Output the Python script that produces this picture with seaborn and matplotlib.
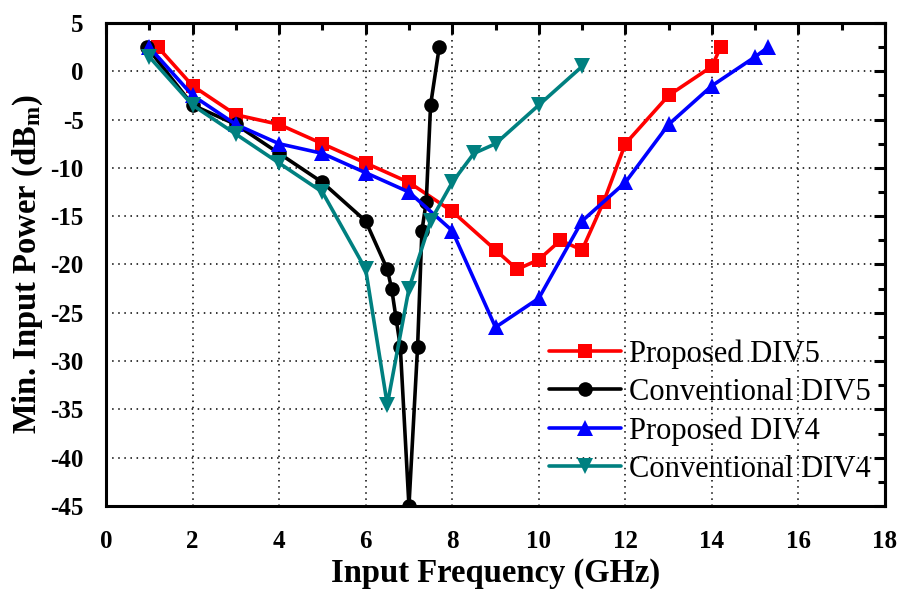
import matplotlib
matplotlib.use("Agg")
import matplotlib.pyplot as plt
import seaborn as sns
import pandas as pd
from matplotlib.ticker import MultipleLocator

# ---- data ----
prop5_x = [1.2, 2, 3, 4, 5, 6, 7, 8, 9, 9.5, 10, 10.5, 11, 11.5, 12, 13, 14, 14.2]
prop5_y = [2.5, -1.5, -4.5, -5.5, -7.5, -9.5, -11.5, -14.5, -18.5, -20.5, -19.5, -17.5, -18.5, -13.5, -7.5, -2.5, 0.5, 2.5]

conv5_x = [0.95, 2, 3, 4, 5, 6, 6.5, 6.6, 6.7, 6.8, 7, 7.2, 7.3, 7.4, 7.5, 7.7]
conv5_y = [2.5, -3.5, -5.5, -8.5, -11.5, -15.5, -20.5, -22.5, -25.5, -28.5, -45, -28.5, -16.5, -13.5, -3.5, 2.5]

prop4_x = [1, 2, 3, 4, 5, 6, 7, 8, 9, 10, 11, 12, 13, 14, 15, 15.3]
prop4_y = [2.5, -2.5, -5.5, -7.5, -8.5, -10.5, -12.5, -16.5, -26.5, -23.5, -15.5, -11.5, -5.5, -1.5, 1.5, 2.5]

conv4_x = [1, 2, 3, 4, 5, 6, 6.5, 7, 7.5, 8, 8.5, 9, 10, 11]
conv4_y = [1.5, -3.5, -6.5, -9.5, -12.5, -20.5, -34.5, -22.5, -15.5, -11.5, -8.5, -7.5, -3.5, 0.5]

series_names = ["Proposed DIV5", "Conventional DIV5", "Proposed DIV4", "Conventional DIV4"]
x_label = "Input Frequency (GHz)"
y_label = "Min. Input Power (dB$\\mathregular{_m}$)"

# ---- style ----
sns.set_style("white")
plt.rcParams["font.family"] = ["Liberation Serif", "DejaVu Serif"]
plt.rcParams["mathtext.fontset"] = "custom"
plt.rcParams["mathtext.rm"] = "Liberation Serif:bold"
plt.rcParams["mathtext.default"] = "regular"
plt.rcParams["axes.unicode_minus"] = False
plt.rcParams["text.color"] = "black"
plt.rcParams["axes.labelcolor"] = "black"
plt.rcParams["xtick.color"] = "black"
plt.rcParams["ytick.color"] = "black"

fig = plt.figure(figsize=(9.01, 5.89), dpi=100)
ax = fig.add_axes([106 / 901, 1 - 506 / 589, (885 - 106) / 901, (506 - 23) / 589])

styles = [
    ("#FF0000", "s", 10.5),
    ("#000000", "o", 10.5),
    ("#0000FF", "^", 11.5),
    ("#008080", "v", 11.5),
]
data = [(prop5_x, prop5_y), (conv5_x, conv5_y), (prop4_x, prop4_y), (conv4_x, conv4_y)]

for (xs, ys), name, (col, mk, ms) in zip(data, series_names, styles):
    df = pd.DataFrame({"x": xs, "y": ys})
    sns.lineplot(data=df, x="x", y="y", ax=ax, sort=False, estimator=None,
                 color=col, marker=mk, markersize=ms, markeredgewidth=0,
                 linewidth=2.6, label=name)

ax.set_xlim(0, 18)
ax.set_ylim(-45, 5)
ax.xaxis.set_major_locator(MultipleLocator(2))
ax.xaxis.set_minor_locator(MultipleLocator(1))
ax.yaxis.set_major_locator(MultipleLocator(5))
ax.yaxis.set_minor_locator(MultipleLocator(2.5))

ax.grid(True, which="major", color="black", linestyle=(0, (1.0, 3)), linewidth=1.1)

for s in ax.spines.values():
    s.set_linewidth(2.2)
    s.set_color("black")

ax.tick_params(axis="x", which="major", direction="out", length=9, width=2.2,
               labelsize=18, pad=8, colors="black")
ax.tick_params(axis="y", which="major", direction="out", length=10, width=2.2,
               labelsize=18, pad=6, colors="black")
ax.tick_params(axis="x", which="minor", direction="out", length=5, width=2.2)
ax.tick_params(axis="y", which="minor", direction="out", length=6, width=2.2)
for lab in ax.get_xticklabels() + ax.get_yticklabels():
    lab.set_fontweight("bold")

# inward ticks on top and right
top = ax.secondary_xaxis("top")
top.xaxis.set_major_locator(MultipleLocator(2))
top.xaxis.set_minor_locator(MultipleLocator(1))
top.tick_params(which="major", direction="in", length=8, width=2.2, labeltop=False)
top.tick_params(which="minor", direction="in", length=5, width=2.2)
top.spines["top"].set_linewidth(2.2)
right = ax.secondary_yaxis("right")
right.yaxis.set_major_locator(MultipleLocator(5))
right.yaxis.set_minor_locator(MultipleLocator(2.5))
right.tick_params(which="major", direction="in", length=8, width=2.2, labelright=False)
right.tick_params(which="minor", direction="in", length=5, width=2.2)
right.spines["right"].set_linewidth(2.2)

ax.set_xlabel(x_label, fontsize=23.5, fontweight="bold", labelpad=4)
ax.set_ylabel(y_label, fontsize=23.5, fontweight="bold", labelpad=4)

leg = ax.legend(loc="upper left", bbox_to_anchor=(0.569, 0.345), frameon=False,
                fontsize=22, handlelength=2.35, handletextpad=0.25,
                labelspacing=0.3, borderaxespad=0, borderpad=0)
for t in leg.get_texts():
    t.set_color("black")

fig.savefig("out.png", dpi=100)
